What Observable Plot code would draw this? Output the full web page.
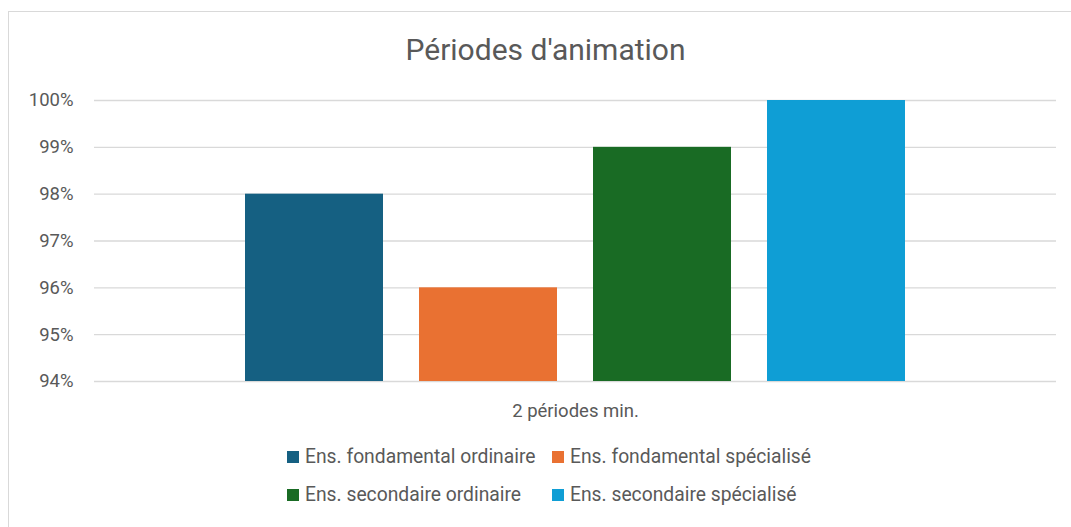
<!DOCTYPE html>
<html>
<head>
<meta charset="utf-8">
<script src="https://cdn.jsdelivr.net/npm/d3@7"></script>
<script src="https://cdn.jsdelivr.net/npm/@observablehq/plot@0.6"></script>
<style>
  body { margin: 0; background: #fff; }
  #wrap { position: relative; width: 1071px; height: 527px; overflow: hidden; font-family: Roboto, "Open Sans", sans-serif; color: #595959; }
  #frame { position: absolute; left: 8px; top: 11px; width: 1200px; height: 700px; border: 1px solid #d9d9d9; box-sizing: border-box; }
  #title { position: absolute; left: 0; width: 1091px; top: 30px; text-align: center; font-size: 30px; line-height: 40px; }
  #chart { position: absolute; left: 0; top: 0; }
  .leg { position: absolute; font-size: 19.3px; line-height: 20px; white-space: nowrap; }
  .sw { position: absolute; width: 12px; height: 12px; }
</style>
</head>
<body>
<div id="wrap">
  <div id="frame"></div>
  <div id="chart"></div>
  <div id="title">Périodes d'animation</div>
  <div id="legend"></div>
</div>
<script>
const categories = ["2 périodes min."];
const series = [
  "Ens. fondamental ordinaire",
  "Ens. fondamental spécialisé",
  "Ens. secondaire ordinaire",
  "Ens. secondaire spécialisé"
];
const values = [0.98, 0.96, 0.99, 1.00];
const colors = ["#156082", "#E97132", "#196B24", "#0F9ED5"];
const yTicks = [0.94, 0.95, 0.96, 0.97, 0.98, 0.99, 1.00];

const data = series.map((s, i) => ({category: categories[0], series: s, value: values[i]}));

const chart = Plot.plot({
  width: 1071,
  height: 420,
  marginLeft: 94,
  marginRight: 15,
  marginTop: 100,
  marginBottom: 39,
  style: {fontFamily: "Roboto, 'Open Sans', sans-serif", fontSize: "18.5px", color: "#595959", background: "transparent", overflow: "visible"},
  fx: {domain: categories, label: null, padding: 0, axis: "bottom", tickSize: 0, tickPadding: 22},
  x: {domain: series, paddingInner: 0.209, paddingOuter: 0.861, axis: null},
  y: {domain: [yTicks[0], yTicks[yTicks.length - 1]], ticks: yTicks, tickFormat: d3.format(".0%"), label: null, tickSize: 0, tickPadding: 21},
  color: {domain: series, range: colors},
  marks: [
    Plot.gridY(yTicks, {stroke: "#d9d9d9", strokeOpacity: 1, strokeWidth: 1.3}),
    Plot.barY(data, {fx: "category", x: "series", y1: yTicks[0], y2: "value", fill: "series"})
  ]
});
document.getElementById("chart").appendChild(chart);

const legend = document.getElementById("legend");
const pos = [[287, 457], [552, 457], [287, 495], [552, 495]];
series.forEach((s, i) => {
  const [x, y] = pos[i];
  const sw = document.createElement("div");
  sw.className = "sw";
  sw.style.left = x + "px";
  sw.style.top = (y - 6) + "px";
  sw.style.background = colors[i];
  legend.appendChild(sw);
  const t = document.createElement("div");
  t.className = "leg";
  t.style.left = (x + 18) + "px";
  t.style.top = (y - 10) + "px";
  t.textContent = s;
  legend.appendChild(t);
});
</script>
</body>
</html>
